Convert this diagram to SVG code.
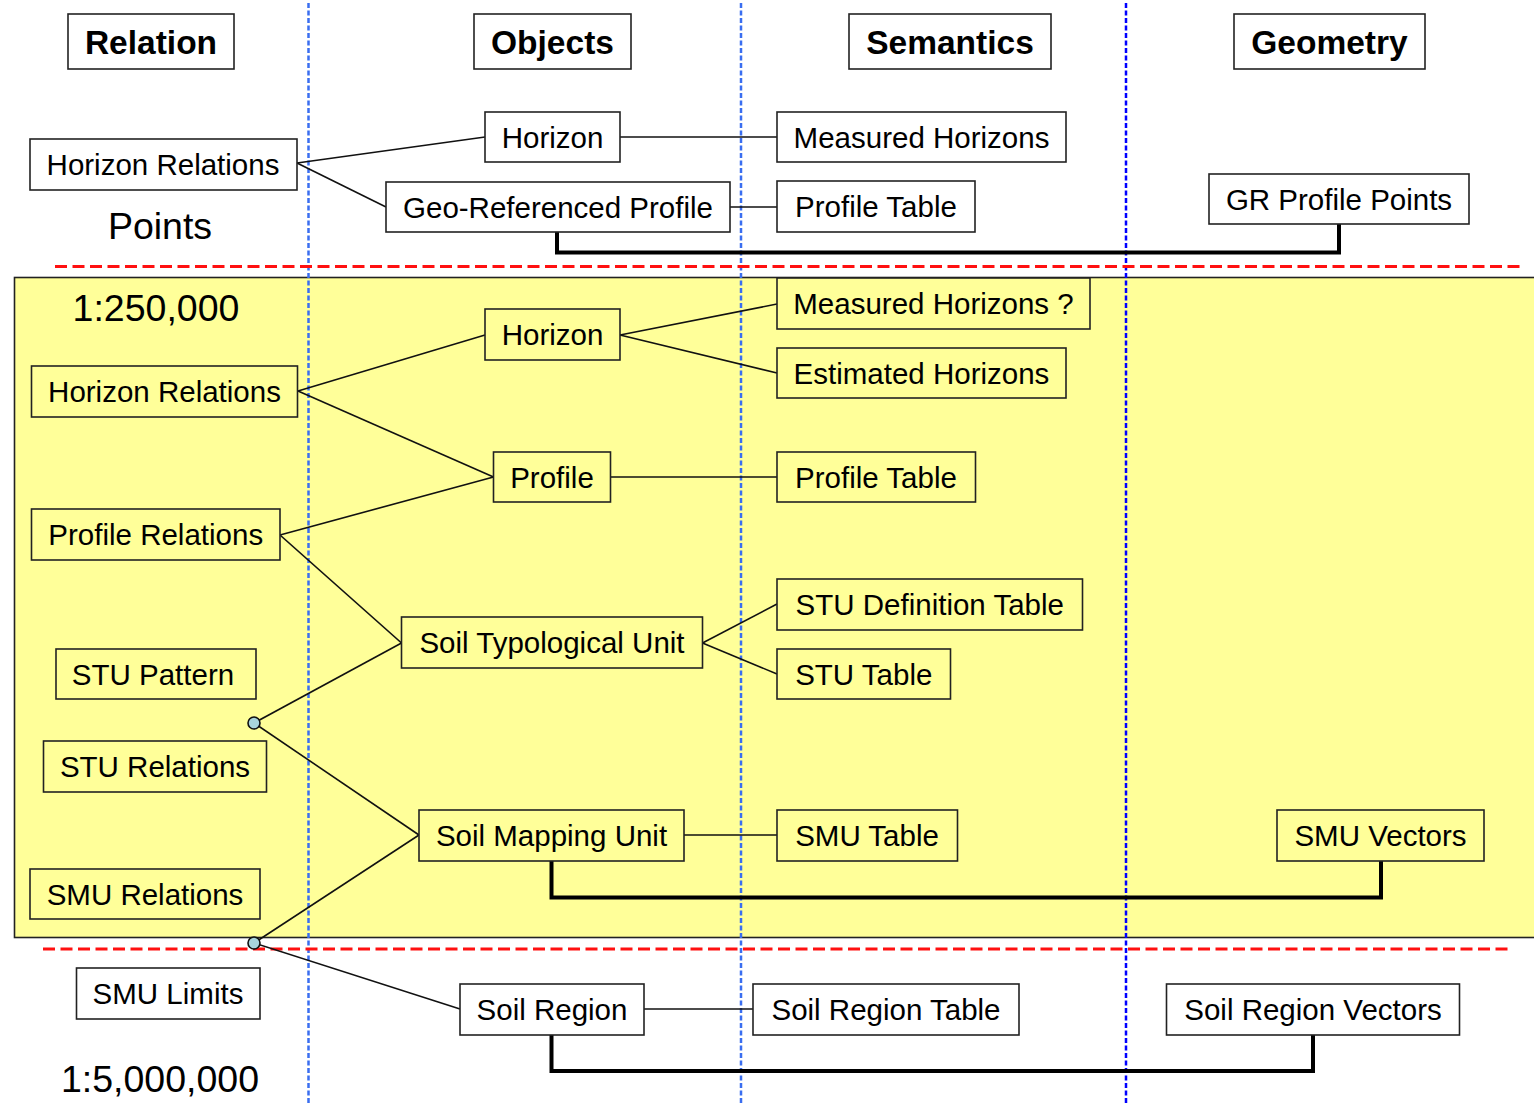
<svg xmlns="http://www.w3.org/2000/svg" width="1534" height="1106" viewBox="0 0 1534 1106">
<style>
.box{fill:#FFFFFF;stroke:#222;stroke-width:1.6}
.ybox{fill:#FFFF99;stroke:#222;stroke-width:1.6}
.t{font-family:"Liberation Sans",Arial,sans-serif;font-size:29.5px;fill:#000;text-anchor:middle}
.h{font-family:"Liberation Sans",Arial,sans-serif;font-size:33.5px;font-weight:bold;fill:#000;text-anchor:middle}
.big{font-family:"Liberation Sans",Arial,sans-serif;font-size:37.5px;fill:#000;text-anchor:middle}
.c{stroke:#111;stroke-width:1.6;fill:none}
.thick{stroke:#000;stroke-width:4;fill:none}
.vb{stroke:#3A6EF0;stroke-width:2.5;stroke-dasharray:5 2.5;fill:none}
.vbd{stroke:#0000FF;stroke-width:2.5;stroke-dasharray:5 2.5;fill:none}
.rd{stroke:#FF1010;stroke-width:3;stroke-dasharray:12 5.5;fill:none}
.dot{fill:#A8D4DC;stroke:#111;stroke-width:1.6}
</style>
<rect x="0" y="0" width="1534" height="1106" fill="#FFFFFF"/>
<rect id="scale-band" x="14.5" y="277.5" width="1530" height="660" fill="#FFFF99" stroke="#222" stroke-width="1.6"/>
<g id="guides">
<line class="vb" x1="308.5" y1="3" x2="308.5" y2="1104"/>
<line class="vb" x1="741" y1="3" x2="741" y2="1104"/>
<line class="vbd" x1="1126" y1="3" x2="1126" y2="1104"/>
<line class="rd" x1="55" y1="266.5" x2="1520" y2="266.5"/>
<line class="rd" x1="43" y1="949" x2="1508" y2="949"/>
</g>
<g id="labels">
<text class="big" x="160" y="239">Points</text>
<text class="big" x="156" y="321">1:250,000</text>
<text class="big" x="160" y="1092">1:5,000,000</text>
</g>
<g id="connectors">
<line class="c" x1="297" y1="163" x2="485" y2="137"/>
<line class="c" x1="297" y1="163" x2="386" y2="207"/>
<line class="c" x1="620" y1="137" x2="777" y2="137"/>
<line class="c" x1="730" y1="207" x2="777" y2="207"/>
<line class="c" x1="298" y1="391" x2="485" y2="335"/>
<line class="c" x1="298" y1="391" x2="493.5" y2="477"/>
<line class="c" x1="620" y1="335" x2="777" y2="304"/>
<line class="c" x1="620" y1="335" x2="777" y2="373"/>
<line class="c" x1="611" y1="477" x2="777" y2="477"/>
<line class="c" x1="280" y1="535" x2="493.5" y2="477"/>
<line class="c" x1="280" y1="535" x2="401.5" y2="643"/>
<line class="c" x1="702.5" y1="643" x2="777" y2="604"/>
<line class="c" x1="702.5" y1="643" x2="777" y2="674"/>
<line class="c" x1="254" y1="723" x2="401.5" y2="643"/>
<line class="c" x1="254" y1="723" x2="419" y2="835"/>
<line class="c" x1="254" y1="943" x2="419" y2="835"/>
<line class="c" x1="254" y1="943" x2="460" y2="1009"/>
<line class="c" x1="684" y1="835" x2="777" y2="835"/>
<line class="c" x1="644" y1="1009" x2="753" y2="1009"/>
<path class="thick" d="M557,232 V252.5 H1339 V224"/>
<path class="thick" d="M551.5,861 V897.5 H1381 V861"/>
<path class="thick" d="M551.5,1035 V1071 H1313 V1035"/>
<circle class="dot" cx="254" cy="723" r="6"/>
<circle class="dot" cx="254" cy="943" r="6"/>
</g>
<g id="hdr-relation"><rect class="box" x="68" y="14" width="166" height="55"/><text class="h" x="151" y="54">Relation</text></g>
<g id="hdr-objects"><rect class="box" x="474" y="14" width="157" height="55"/><text class="h" x="552.5" y="54">Objects</text></g>
<g id="hdr-semantics"><rect class="box" x="849" y="14" width="202" height="55"/><text class="h" x="950" y="54">Semantics</text></g>
<g id="hdr-geometry"><rect class="box" x="1234" y="14" width="191" height="55"/><text class="h" x="1329.5" y="54">Geometry</text></g>

<g id="p-horizon-relations"><rect class="box" x="30" y="139" width="267" height="51"/><text class="t" x="163" y="175">Horizon Relations</text></g>
<g id="p-horizon"><rect class="box" x="485" y="112" width="135" height="50"/><text class="t" x="552.5" y="147.5">Horizon</text></g>
<g id="p-geo-profile"><rect class="box" x="386" y="182" width="344" height="50"/><text class="t" x="558" y="217.5">Geo-Referenced Profile</text></g>
<g id="p-measured-horizons"><rect class="box" x="777" y="112" width="289" height="50"/><text class="t" x="921.5" y="147.5">Measured Horizons</text></g>
<g id="p-profile-table"><rect class="box" x="777" y="181" width="198" height="51"/><text class="t" x="876" y="217">Profile Table</text></g>
<g id="p-gr-points"><rect class="box" x="1209" y="174" width="260" height="50"/><text class="t" x="1339" y="209.5">GR Profile Points</text></g>

<g id="m-horizon"><rect class="ybox" x="485" y="309" width="135" height="51"/><text class="t" x="552.5" y="345">Horizon</text></g>
<g id="m-horizon-relations"><rect class="ybox" x="31.5" y="366" width="266" height="51"/><text class="t" x="164.5" y="402">Horizon Relations</text></g>
<g id="m-profile"><rect class="ybox" x="493.5" y="452" width="117" height="50"/><text class="t" x="552" y="487.5">Profile</text></g>
<g id="m-profile-relations"><rect class="ybox" x="31.5" y="509" width="248.5" height="51"/><text class="t" x="155.75" y="545">Profile Relations</text></g>
<g id="m-measured-horizons"><rect class="ybox" x="777" y="278" width="313" height="51"/><text class="t" x="933.5" y="314">Measured Horizons ?</text></g>
<g id="m-estimated-horizons"><rect class="ybox" x="777" y="348" width="289" height="50"/><text class="t" x="921.5" y="383.5">Estimated Horizons</text></g>
<g id="m-profile-table"><rect class="ybox" x="777" y="452" width="198.5" height="50"/><text class="t" x="876" y="487.5">Profile Table</text></g>
<g id="m-stu-def-table"><rect class="ybox" x="777" y="579" width="305.5" height="51"/><text class="t" x="929.75" y="615">STU Definition Table</text></g>
<g id="m-stu-table"><rect class="ybox" x="777" y="649" width="173.5" height="50"/><text class="t" x="863.75" y="684.5">STU Table</text></g>
<g id="m-stu"><rect class="ybox" x="401.5" y="617" width="301" height="51"/><text class="t" x="552" y="653">Soil Typological Unit</text></g>
<g id="m-stu-pattern"><rect class="ybox" x="56" y="649" width="200" height="50"/><text class="t" x="153" y="684.5">STU Pattern</text></g>
<g id="m-stu-relations"><rect class="ybox" x="43.5" y="741" width="223" height="51"/><text class="t" x="155" y="777">STU Relations</text></g>
<g id="m-smu"><rect class="ybox" x="419" y="810" width="265" height="51"/><text class="t" x="551.5" y="846">Soil Mapping Unit</text></g>
<g id="m-smu-table"><rect class="ybox" x="777" y="810" width="180.5" height="51"/><text class="t" x="867" y="846">SMU Table</text></g>
<g id="m-smu-vectors"><rect class="ybox" x="1277" y="810" width="207" height="51"/><text class="t" x="1380.5" y="846">SMU Vectors</text></g>
<g id="m-smu-relations"><rect class="ybox" x="30" y="869" width="230" height="50"/><text class="t" x="145" y="904.5">SMU Relations</text></g>

<g id="b-smu-limits"><rect class="box" x="76.5" y="968" width="183.5" height="51"/><text class="t" x="168" y="1004">SMU Limits</text></g>
<g id="b-soil-region"><rect class="box" x="460" y="984" width="184" height="51"/><text class="t" x="552" y="1020">Soil Region</text></g>
<g id="b-soil-region-table"><rect class="box" x="753" y="984" width="266" height="51"/><text class="t" x="886" y="1020">Soil Region Table</text></g>
<g id="b-soil-region-vectors"><rect class="box" x="1166.5" y="984" width="293" height="51"/><text class="t" x="1313" y="1020">Soil Region Vectors</text></g>
</svg>
